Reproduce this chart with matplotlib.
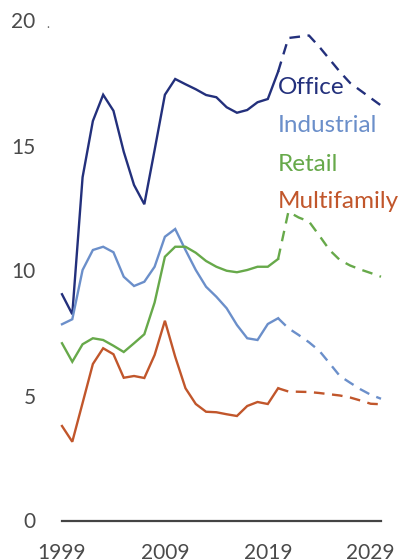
import numpy as np
import matplotlib.pyplot as plt

plt.rcParams['font.family'] = ['Lato', 'DejaVu Sans']

years = np.arange(1999, 2031)
last_actual = 2020

office = [9.05, 8.25, 13.73, 15.98, 17.03, 16.39, 14.75, 13.42, 12.65, 14.82,
          17.03, 17.66, 17.45, 17.25, 17.02, 16.93, 16.53, 16.31, 16.42, 16.73,
          16.86, 17.95,
          19.3, 19.35, 19.4, 18.95, 18.45, 17.95, 17.5, 17.2, 16.9, 16.6]
industrial = [7.85, 8.05, 10.02, 10.82, 10.95, 10.73, 9.75, 9.38, 9.55, 10.15,
              11.35, 11.66, 10.82, 10.02, 9.35, 8.95, 8.49, 7.82, 7.29, 7.22,
              7.86, 8.09,
              7.69, 7.42, 7.13, 6.79, 6.29, 5.78, 5.51, 5.25, 5.03, 4.87]
retail = [7.09, 6.35, 7.05, 7.29, 7.22, 6.99, 6.74, 7.09, 7.45, 8.72,
          10.55, 10.95, 10.95, 10.71, 10.38, 10.15, 9.99, 9.93, 10.02, 10.15,
          10.15, 10.46,
          12.35, 12.12, 11.96, 11.4, 10.82, 10.42, 10.2, 10.04, 9.9, 9.75]
multifamily = [3.78, 3.15, 4.7, 6.26, 6.89, 6.65, 5.71, 5.78, 5.7, 6.62,
               7.99, 6.55, 5.29, 4.66, 4.35, 4.33, 4.25, 4.18, 4.58, 4.74,
               4.66, 5.29,
               5.16, 5.15, 5.14, 5.1, 5.05, 5.0, 4.92, 4.8, 4.67, 4.65]

names = ['Office', 'Industrial', 'Retail', 'Multifamily']
series = [office, industrial, retail, multifamily]
colors = ['#23307c', '#6b8fca', '#67a94a', '#c1562b']
label_y = [17.05, 15.55, 13.98, 12.51]

xticks = [1999, 2009, 2019, 2029]
yticks = [0, 5, 10, 15, 20]

W, H = 408, 559
fig = plt.figure(figsize=(W / 100, H / 100), dpi=100)
ax = fig.add_axes([62 / W, (H - 520.5) / H, (381 - 62) / W, 500 / H])

# the solid part is history, forecasts are dashed from the last actual year on
hist = years <= last_actual
fcst = years >= last_actual
for vals, c in zip(series, colors):
    v = np.array(vals)
    ax.plot(years[hist], v[hist], color=c, lw=1.7, solid_joinstyle='miter',
            clip_on=False)
    ax.plot(years[fcst], v[fcst], color=c, lw=1.7, ls=(0, (4.5, 3.2)),
            clip_on=False)

for name, c, ly in zip(names, colors, label_y):
    ax.text(2020, ly, name, color=c, fontsize=17.5, va='baseline', ha='left')

ax.set_xlim(1999, 2030)
ax.set_ylim(0, 20)
ax.set_xticks(xticks)
ax.set_yticks(yticks)
ax.tick_params(axis='both', length=0, labelsize=15, colors='#4a4a4a')
ax.tick_params(axis='y', pad=19)
ax.tick_params(axis='x', pad=16)
for s in ['top', 'right', 'left']:
    ax.spines[s].set_visible(False)
ax.spines['bottom'].set_color('#444444')
ax.spines['bottom'].set_linewidth(1.6)

fig.text(48 / W, (H - 28) / H, '.', fontsize=9, color='#666666',
         ha='center', va='baseline')

fig.savefig('out.png', dpi=100)
